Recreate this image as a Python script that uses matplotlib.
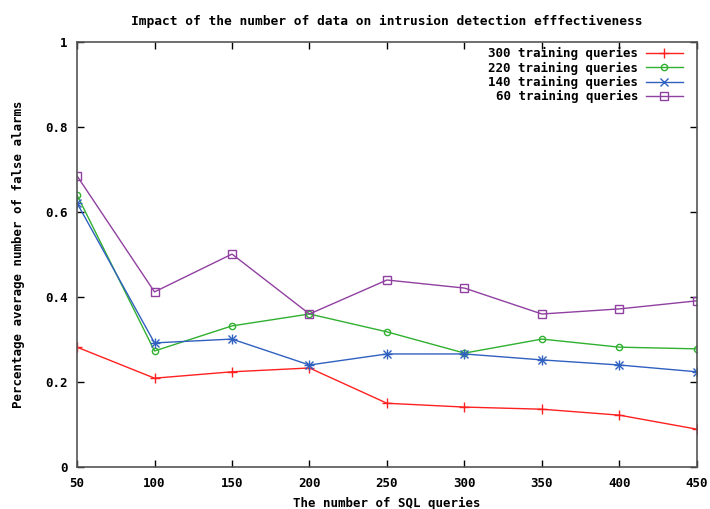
import matplotlib
matplotlib.use('Agg')
import matplotlib.pyplot as plt

x = [50, 100, 150, 200, 250, 300, 350, 400, 450]
q300 = [0.282, 0.209, 0.224, 0.233, 0.150, 0.141, 0.136, 0.122, 0.089]
q220 = [0.640, 0.273, 0.332, 0.360, 0.318, 0.268, 0.301, 0.282, 0.278]
q140 = [0.621, 0.292, 0.301, 0.240, 0.266, 0.266, 0.252, 0.240, 0.224]
q60 = [0.685, 0.412, 0.501, 0.360, 0.440, 0.421, 0.360, 0.372, 0.391]

plt.rcParams['font.family'] = 'DejaVu Sans Mono'
plt.rcParams['font.weight'] = 'bold'
plt.rcParams['axes.titleweight'] = 'bold'
plt.rcParams['axes.labelweight'] = 'bold'
plt.rcParams['font.size'] = 9

fig = plt.figure(figsize=(7.1, 5.09), dpi=100)
ax = fig.add_axes([0.1085, 0.0825, 0.873, 0.835])

ax.plot(x, q300, color='#ff2020', marker='+', ms=7, mew=1, lw=1, label='300 training queries')
ax.plot(x, q220, color='#30b030', marker='o', ms=4.5, mfc='none', mew=1, lw=1, label='220 training queries')
ax.plot(x, q140, color='#3060c0', marker='x', ms=5.5, mew=1, lw=1, label='140 training queries')
ax.plot(x, q60, color='#9040a0', marker='s', ms=6, mfc='none', mew=1, lw=1, label='60 training queries')
# gnuplot asterisk: add + to the x markers
ax.plot(x, q140, color='#3060c0', marker='+', ms=7, mew=1, lw=0)

ax.set_xlim(50, 450)
ax.set_ylim(0, 1)
ax.set_xticks(x)
ax.set_yticks([0, 0.2, 0.4, 0.6, 0.8, 1])
ax.set_yticklabels(['0', '0.2', '0.4', '0.6', '0.8', '1'])
ax.tick_params(direction='in', top=True, right=True, length=5, width=1, pad=7)
for s in ax.spines.values():
    s.set_color('#555555')
    s.set_linewidth(1.2)

ax.set_title('Impact of the number of data on intrusion detection efffectiveness',
             pad=12, fontsize=9.3)
ax.set_xlabel('The number of SQL queries', labelpad=5)
ax.set_ylabel('Percentage average number of false alarms', labelpad=14)

ax.legend(loc='upper right', bbox_to_anchor=(0.99, 1.005), frameon=False,
          markerfirst=False, handlelength=3, handletextpad=0.6,
          labelspacing=0.1, borderaxespad=0.2)

fig.savefig('out.png', dpi=100)
